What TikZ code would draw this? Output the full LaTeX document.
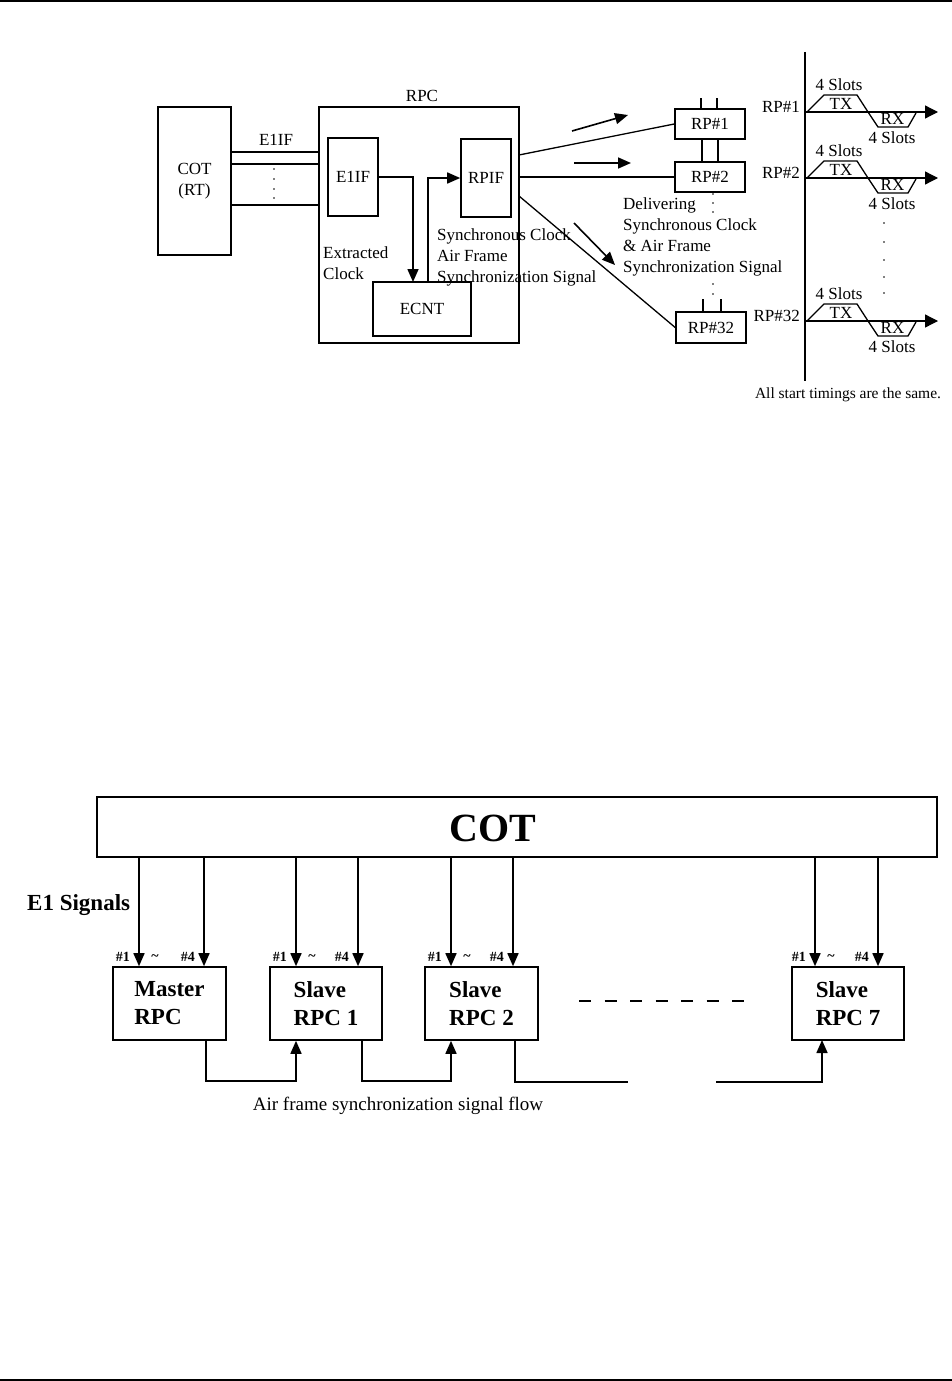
\documentclass[tikz,border=0pt]{standalone}
\usepackage{fontspec}
\setmainfont{Liberation Serif}
\usetikzlibrary{arrows.meta}
\begin{document}
\begin{tikzpicture}[x=1pt,y=-1pt,
 ln/.style={line width=1.6pt},
 thn/.style={line width=1.3pt},
 bx/.style={draw,line width=1.6pt,inner sep=0pt},
 arr/.style={ln,-{Triangle[length=13pt,width=11pt]}},
 tarr/.style={thn,-{Triangle[length=13pt,width=13pt]}},
 tf/.style={font=\fontsize{17}{21}\selectfont,inner sep=0pt},
 bf/.style={font=\fontsize{23}{28}\selectfont\bfseries,inner sep=0pt},
 sf/.style={font=\fontsize{14}{16}\selectfont\bfseries,inner sep=0pt},
 dot/.style={fill,circle,inner sep=0pt,minimum size=1.8pt},
]
\useasboundingbox (0,0) rectangle (952,1381);
\fill[white] (0,0) rectangle (952,1381);
\draw[line width=2pt] (0,1) -- (952,1);
\draw[line width=2pt] (0,1379.5) -- (952,1379.5);

% ---------- top diagram ----------
\node[bx,tf,align=center,minimum width=73pt,minimum height=148pt] (cot) at (194.5,181) {COT\\(RT)};
\node[bx,minimum width=200pt,minimum height=236pt] (rpc) at (419,225) {};
\node[tf] (rpclbl) at (422,96) {RPC};
\node[bx,tf,minimum width=50pt,minimum height=78pt] (e1if) at (353,177) {E1IF};
\node[bx,tf,minimum width=50pt,minimum height=78pt] (rpif) at (486,178) {RPIF};
\node[bx,tf,minimum width=98pt,minimum height=54pt] (ecnt) at (422,309) {ECNT};
\node[tf] (e1lbl) at (276,140) {E1IF};

\coordinate (l1) at (231,152);
\coordinate (l2) at (231,164);
\coordinate (l3) at (231,205);
\draw[ln] (l1) -- (rpc.west |- l1);
\draw[ln] (l2) -- (rpc.west |- l2);
\draw[ln] (l3) -- (rpc.west |- l3);
\foreach \i/\yy in {1/169,2/179,3/189,4/198} \node[dot] (cd\i) at (274,\yy) {};

\coordinate (k1) at (413,282);
\draw[arr] (e1if.east) -| (k1);
\coordinate (k2) at (428,282);
\draw[arr] (k2) |- (rpif.west);

\node[tf,align=left,anchor=west] (xclk) at (323,263) {Extracted\\Clock};
\node[tf,align=left,anchor=west] (sync) at (437,257) {Synchronous Clock\\Air Frame\\Synchronization Signal};

\node[bx,tf,minimum width=70pt,minimum height=30pt] (rp1) at (710,124) {RP\#1};
\node[bx,tf,minimum width=70pt,minimum height=30pt] (rp2) at (710,177) {RP\#2};
\node[bx,tf,minimum width=70pt,minimum height=31pt] (rp32) at (711,327.5) {RP\#32};

\coordinate (o1) at (519,155);
\draw[thn] (o1) -- (rp1.west);
\draw[thn] (rpc.east |- rp2.west) -- (rp2.west);
\coordinate (o3) at (519,196);
\draw[thn] (o3) -- (rp32.west);

\coordinate (d1s) at (572,131); \coordinate (d1e) at (628,115);
\coordinate (d2s) at (574,163); \coordinate (d2e) at (631,163);
\coordinate (d3s) at (574,223); \coordinate (d3e) at (615,265);
\draw[arr] (d1s) -- (d1e);
\draw[arr] (d2s) -- (d2e);
\draw[arr] (d3s) -- (d3e);

\node[tf,align=left,anchor=west] (deliv) at (623,237) {Delivering\\Synchronous Clock\\\& Air Frame\\Synchronization Signal};

\draw[thn] ([xshift=-9pt]rp1.north) -- ++(0,-10);
\draw[thn] ([xshift=7pt]rp1.north) -- ++(0,-10);
\draw[thn] ([xshift=-8pt]rp1.south) -- ([xshift=-8pt]rp1.south |- rp2.north);
\draw[thn] ([xshift=8pt]rp1.south) -- ([xshift=8pt]rp1.south |- rp2.north);
\draw[thn] ([xshift=-8pt]rp32.north) -- ++(0,-12);
\draw[thn] ([xshift=10pt]rp32.north) -- ++(0,-12);
\foreach \i/\yy in {1/194,2/203,3/212,4/284,5/294} \node[dot] (rd\i) at (713,\yy) {};

% ---------- timing ----------
\draw[ln] (805,52) -- (805,381);
\foreach \y/\l in {112/1,178/2,321/32} {
 \draw[tarr] (805,\y) -- (938,\y);
 \draw[thn] (807,\y) -- (824,{\y-17}) -- (857,{\y-17}) -- (868,\y) -- (878,{\y+15}) -- (908,{\y+15}) -- (916,{\y+1});
 \node[tf] (ta\l) at (839,{\y-27}) {4 Slots};
 \node[tf] (tx\l) at (841,{\y-8}) {TX};
 \node[tf] (rx\l) at (892.5,{\y+7}) {RX};
 \node[tf] (tb\l) at (892,{\y+26}) {4 Slots};
 \node[tf,anchor=east] (rl\l) at (800,{\y-5}) {RP\#\l};
}
\foreach \i/\yy in {1/223,2/242,3/260,4/277,5/293} \node[dot] (td\i) at (884,\yy) {};
\node[font=\fontsize{15.5}{18}\selectfont,inner sep=0pt] (note) at (848,395) {All start timings are the same.};

% ---------- bottom diagram ----------
\node[bx,minimum width=840pt,minimum height=60pt] (cotb) at (517,827) {};
\node[font=\fontsize{40}{44}\selectfont\bfseries,inner sep=0pt] (cotblbl) at (493,828) {COT};
\node[bf,anchor=west] (e1s) at (27,905) {E1 Signals};

\node[bx,bf,align=left,minimum width=113pt,minimum height=73pt] (mst) at (169.5,1003.5) {Master\\RPC};
\node[bx,bf,align=left,minimum width=112pt,minimum height=73pt] (sl1) at (326,1003.5) {Slave\\RPC 1};
\node[bx,bf,align=left,minimum width=113pt,minimum height=73pt] (sl2) at (481.5,1003.5) {Slave\\RPC 2};
\node[bx,bf,align=left,minimum width=112pt,minimum height=73pt] (sl7) at (848,1003.5) {Slave\\RPC 7};

\foreach \n/\a/\b in {mst/139/204, sl1/296/358, sl2/451/513, sl7/815/878} {
 \coordinate (\n-a) at (\a,857);
 \coordinate (\n-b) at (\b,857);
 \draw[arr] (\n-a) -- (\n-a |- \n.north);
 \draw[arr] (\n-b) -- (\n-b |- \n.north);
 \node[sf,anchor=east] (\n-l1) at ({\a-9},957) {\#1};
 \node[sf] (\n-t) at ({\a+16},958) {\textasciitilde};
 \node[sf,anchor=east] (\n-l4) at ({\b-9},957) {\#4};
}

\coordinate (f1) at (206,1040);
\draw[arr] (f1) -- ++(0,41) -| (sl1.south -| sl1-a);
\coordinate (f2) at (362,1040);
\draw[arr] (f2) -- ++(0,41) -| (sl2.south -| sl2-a);
\coordinate (f3) at (515,1040);
\coordinate (g1) at (628,1082);
\coordinate (g2) at (716,1082);
\coordinate (f4) at (822,1040);
\draw[ln] (f3) |- (g1);
\draw[arr] (g2) -| (f4);

\draw[ln,dash pattern=on 12pt off 13.5pt] (579,1001) -- (744,1001);
\node[font=\fontsize{19}{22}\selectfont,inner sep=0pt] (flow) at (398,1106) {Air frame synchronization signal flow};
\end{tikzpicture}
\end{document}
